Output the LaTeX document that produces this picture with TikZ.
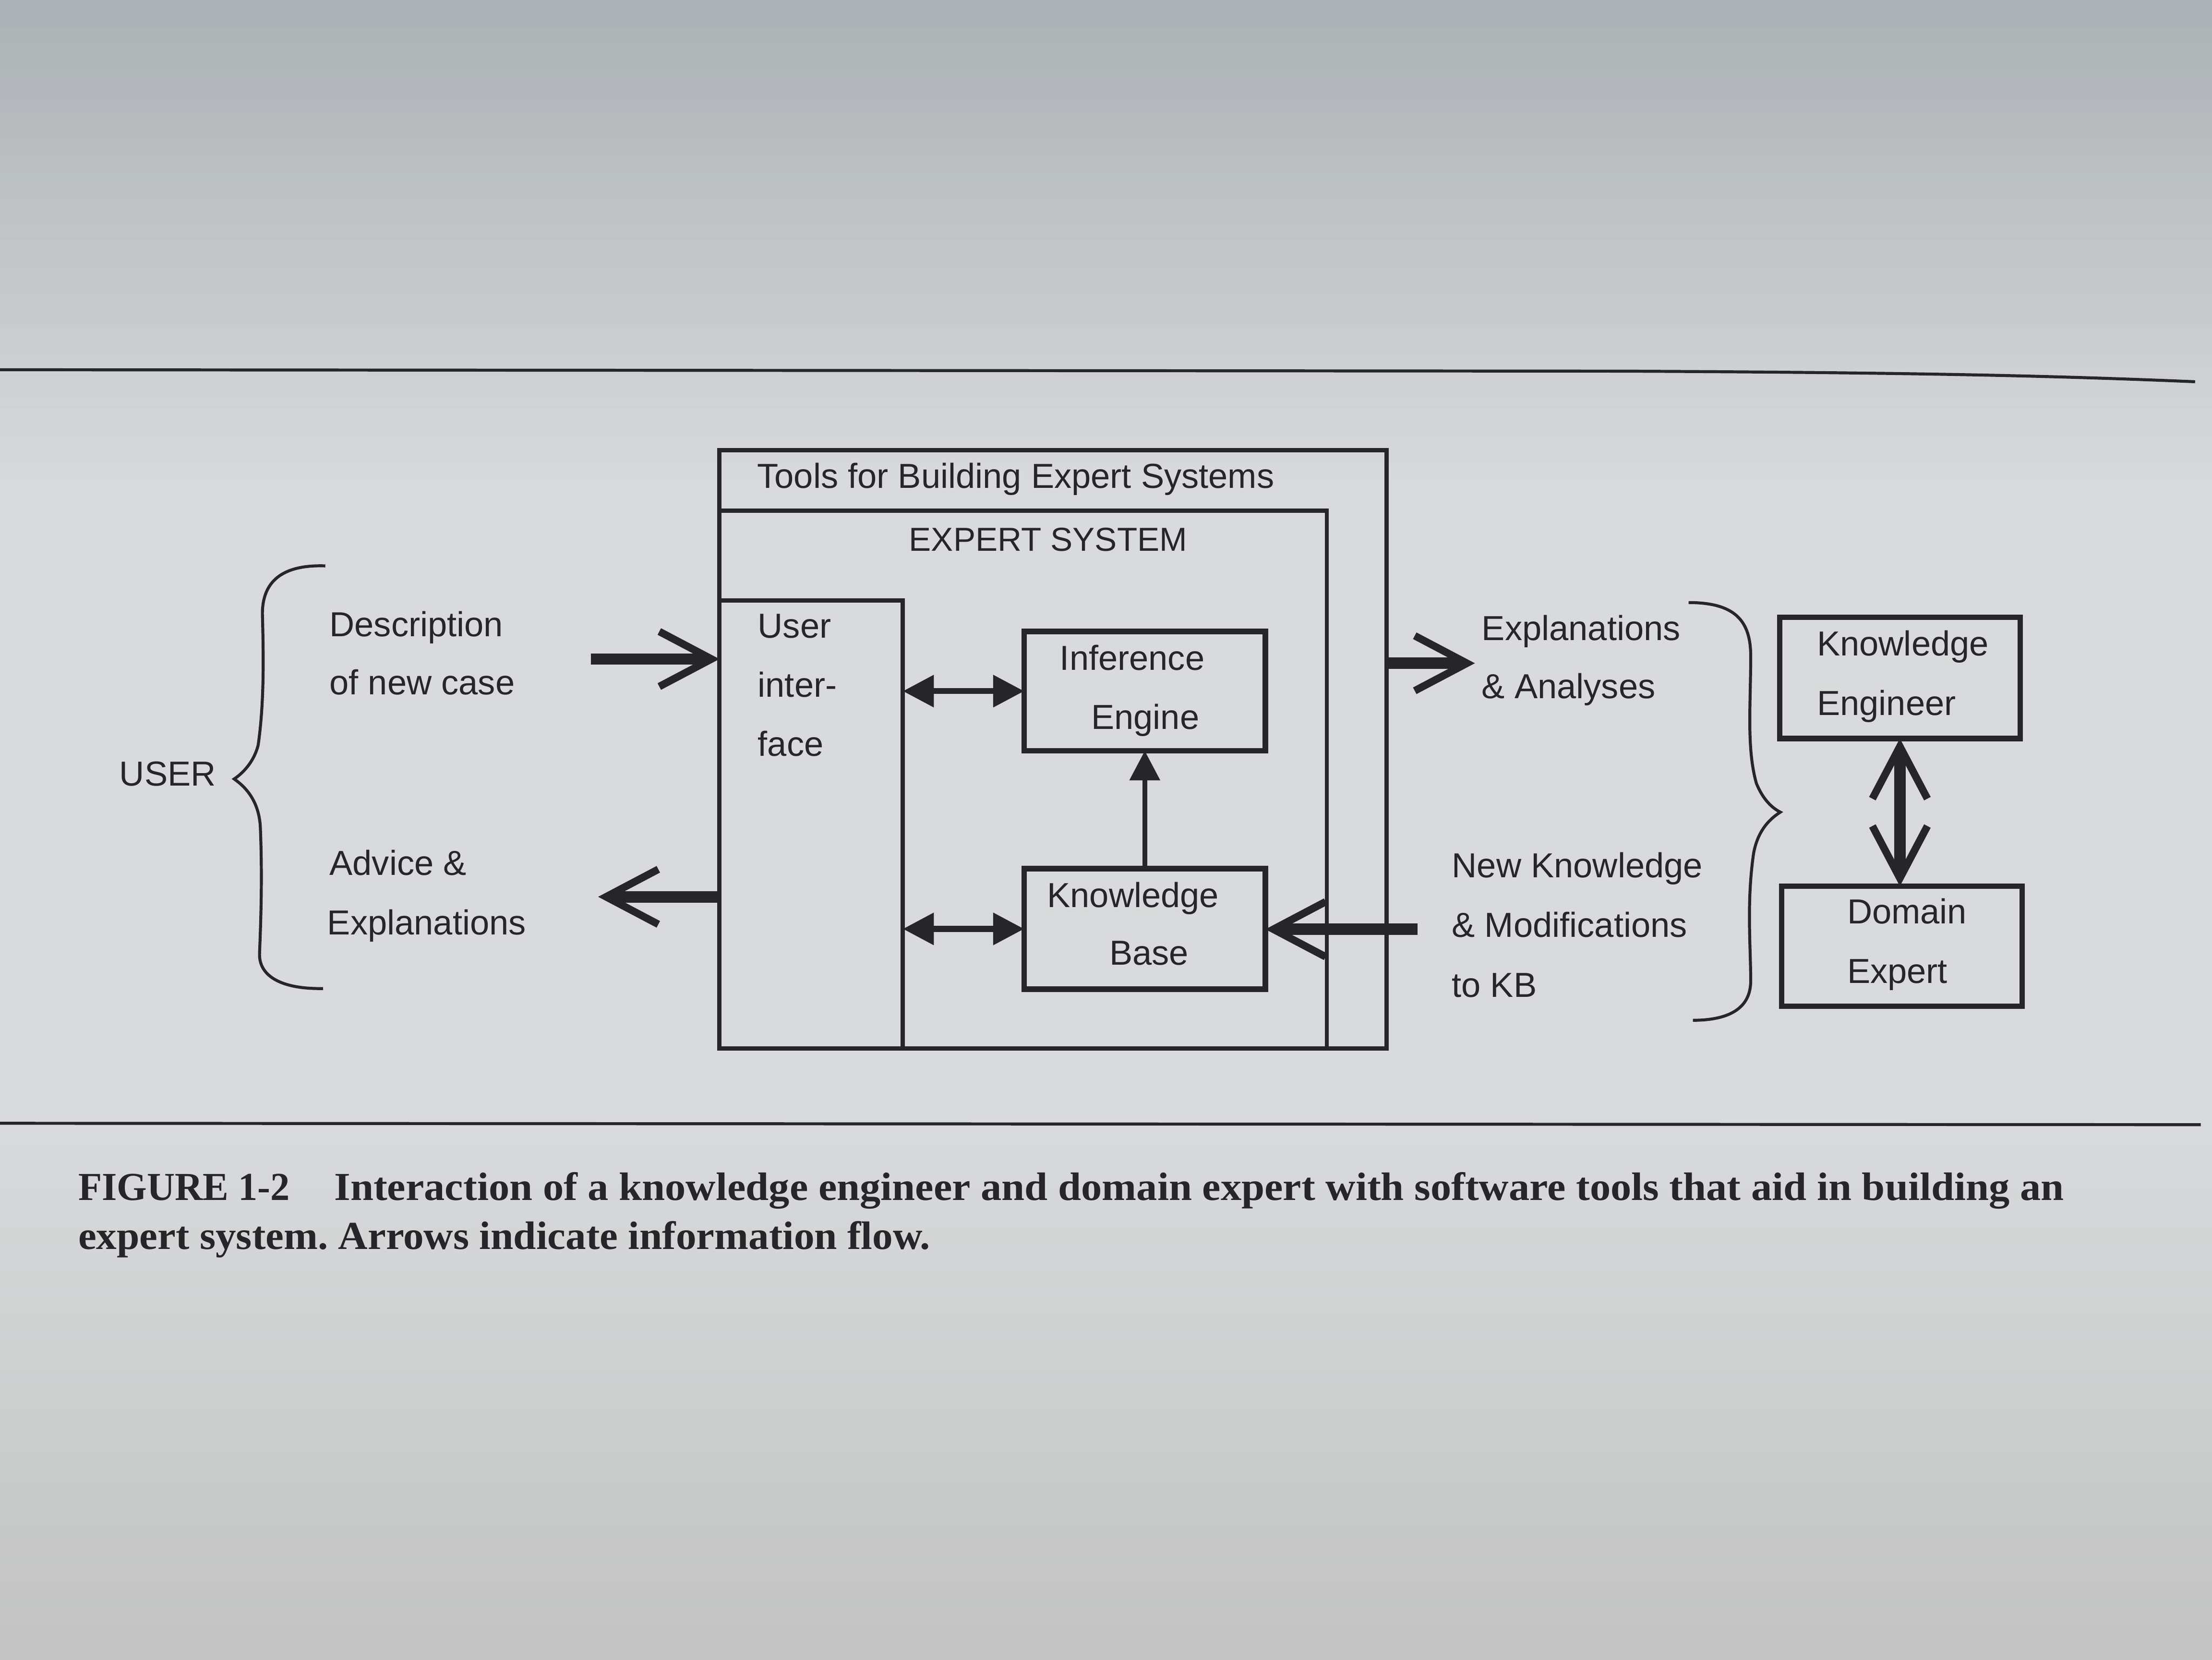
\documentclass[tikz,border=0pt]{standalone}
\usepackage{fontspec}
\usepackage{graphicx}
\setmainfont{Liberation Sans}
\newfontfamily\capfont{Liberation Serif}
\usetikzlibrary{arrows.meta}
\frenchspacing
\definecolor{ink}{RGB}{38,38,42}
\definecolor{bgtop}{RGB}{172,177,181}
\definecolor{bgmid}{RGB}{216,218,219}
\definecolor{bgbot}{RGB}{194,195,194}
\tikzset{
  lbl/.style={anchor=base west, inner sep=0pt, outer sep=0pt, text=ink, font=\fontsize{7}{8}\selectfont},
  capt/.style={anchor=base west, inner sep=0pt, outer sep=0pt, text=ink},
  framebox/.style={draw=ink, line width=0.85pt, inner sep=0pt, outer sep=0pt},
  partbox/.style={draw=ink, line width=1.1pt, inner sep=0pt, outer sep=0pt},
  bigflow/.style={draw=ink, line width=2.3pt, -{Straight Barb[length=3.7mm, width=3.9mm, line width=1.5pt]}},
  bigboth/.style={draw=ink, line width=2.3pt, {Straight Barb[length=3.7mm, width=3.9mm, line width=1.5pt]}-{Straight Barb[length=3.7mm, width=3.9mm, line width=1.5pt]}},
  smallboth/.style={draw=ink, line width=1.2pt, {Triangle[length=2.2mm, width=2.2mm]}-{Triangle[length=2.2mm, width=2.2mm]}},
  smallflow/.style={draw=ink, line width=1pt, -{Triangle[length=2.1mm, width=2.1mm]}},
  bracepath/.style={draw=ink, line width=0.6pt},
  rulepath/.style={draw=ink, line width=0.6pt}
}
\begin{document}
\begin{tikzpicture}[x=0.1mm, y=-0.1mm]
\useasboundingbox (0,0) rectangle (1568,1176);
% paper background in bands
\foreach \i in {0,...,34} {
  \pgfmathsetmacro{\p}{100-\i*100/34}
  \fill[bgtop!\p!bgmid] (0,\i*10) rectangle (1568,\i*10+10.5);
}
\fill[bgmid] (0,350) rectangle (1568,800);
\foreach \i in {0,...,37} {
  \pgfmathsetmacro{\p}{\i*100/37}
  \fill[bgbot!\p!bgmid] (0,800+\i*10) rectangle (1568,800+\i*10+10.5);
}

% rules
\draw[rulepath] (0,262) -- (1150,263) .. controls (1350,264) and (1450,266) .. (1556,270.5);
\draw[rulepath] (0,796) -- (1560,797);

% boxes
\node[framebox, minimum width=47.3mm, minimum height=42.4mm] (tools) at (746.5,531) {};
\node[framebox, minimum width=43.05mm, minimum height=38.1mm] (es) at (725.25,552.5) {};
\node[framebox, minimum width=13mm, minimum height=31.75mm] (ui) at (575,584.25) {};
\node[partbox, minimum width=17.1mm, minimum height=8.45mm] (ie) at (811.5,489.75) {};
\node[partbox, minimum width=17.1mm, minimum height=8.55mm] (kb) at (811.5,658.25) {};
\node[partbox, minimum width=17.05mm, minimum height=8.58mm] (ke) at (1346.75,480.4) {};
\node[partbox, minimum width=17.05mm, minimum height=8.5mm] (de) at (1348.25,670.5) {};

% labels in boxes
\node[lbl] (ttools) at (536.8,346) {Tools for Building Expert Systems};
\node[lbl] (tes) at (644.4,390.3) {\fontsize{6.7}{8}\selectfont EXPERT SYSTEM};
\node[lbl] (tui1) at (537.2,452.2) {User};
\node[lbl] (tui2) at (537.2,494) {inter-};
\node[lbl] (tui3) at (537.2,535.7) {face};
\node[lbl] (tie1) at (751.3,474.8) {Inference};
\node[lbl] (tie2) at (773.5,516.6) {Engine};
\node[lbl] (tkb1) at (742.3,643) {Knowledge};
\node[lbl] (tkb2) at (786.4,683.7) {Base};
\node[lbl] (tke1) at (1288,464.7) {Knowledge};
\node[lbl] (tke2) at (1288,507) {Engineer};
\node[lbl] (tde1) at (1309.4,654.5) {Domain};
\node[lbl] (tde2) at (1309.4,696.8) {Expert};

% outer labels
\node[lbl] (tuser) at (84.7,557) {USER};
\node[lbl] (td1) at (233.6,451) {Description};
\node[lbl] (td2) at (233.6,492.2) {of new case};
\node[lbl] (ta1) at (233.6,620) {Advice \&};
\node[lbl] (ta2) at (232,662.5) {Explanations};
\node[lbl] (te1) at (1050.4,453.9) {Explanations};
\node[lbl] (te2) at (1050.4,495) {\& Analyses};
\node[lbl] (tn1) at (1029.2,622) {New Knowledge};
\node[lbl] (tn2) at (1029.2,664) {\& Modifications};
\node[lbl] (tn3) at (1029.2,706.5) {to KB};

% free ends of big arrows
\coordinate (dsrc) at (419,467);
\coordinate (adv) at (424,635.5);
\coordinate (exa) at (1045.5,470);
\coordinate (nk) at (1005,658.5);

% connectors
\draw[bigflow] (dsrc) -- (ui.west |- dsrc);
\draw[bigflow] (ui.west |- adv) -- (adv);
\draw[bigflow] (tools.east |- exa) -- (exa);
\draw[bigflow] (nk) -- (kb.east |- nk);
\draw[bigboth] (ke.south) -- (ke.south |- de.north);
\draw[smallboth] (ui.east |- ie.west) -- (ie.west);
\draw[smallboth] (ui.east |- kb.west) -- (kb.west);
\draw[smallflow] (kb.north) -- (ie.south);

% braces
\draw[bracepath] (230.6,401) .. controls (200,400) and (186,412) .. (186,435)
  .. controls (187,470) and (187,500) .. (183,528)
  .. controls (180,540) and (172,548) .. (166,552)
  .. controls (173,557) and (183,566) .. (184.5,585)
  .. controls (186,620) and (185,650) .. (184,675)
  .. controls (183,692) and (200,701) .. (229,700.5);
\draw[bracepath] (1197,427) .. controls (1230,427) and (1241,440) .. (1241,465)
  .. controls (1241,500) and (1238,530) .. (1245,555)
  .. controls (1249,565) and (1255,572) .. (1262,575.5)
  .. controls (1255,580) and (1246,588) .. (1243,605)
  .. controls (1238,640) and (1241,670) .. (1241,695)
  .. controls (1241,715) and (1225,723) .. (1200,723);

% caption
\node[capt] (cap1) at (55.5,850.6) {\resizebox{15.0mm}{\height}{\capfont\bfseries\fontsize{8}{9}\selectfont FIGURE 1-2}};
\node[capt] (cap2) at (237,850.6) {\resizebox{122.6mm}{\height}{\capfont\bfseries\fontsize{8}{9}\selectfont Interaction of a knowledge engineer and domain expert with software tools that aid in building an}};
\node[capt] (cap3) at (55.5,885.2) {\resizebox{60.4mm}{\height}{\capfont\bfseries\fontsize{8}{9}\selectfont expert system. Arrows indicate information flow.}};
\end{tikzpicture}
\end{document}
